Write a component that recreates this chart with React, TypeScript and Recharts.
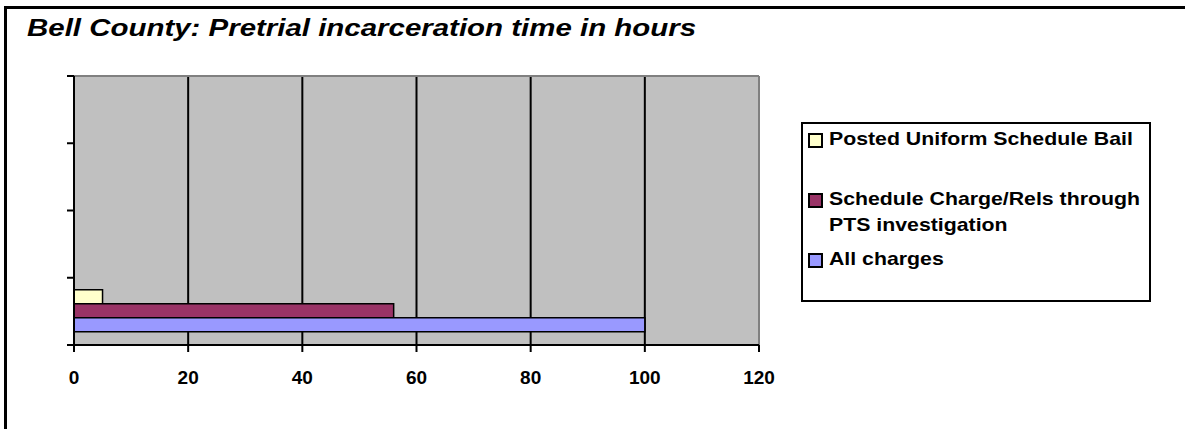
import {
  BarChart,
  Bar,
  XAxis,
  YAxis,
  CartesianGrid,
  Legend,
} from "recharts";

// hours of pretrial incarceration, one row per group (only the last row is filled)
const rows = ["r1", "r2", "r3", "Bell County"];
const postedBail = [null, null, null, 5];
const scheduleCharge = [null, null, null, 56];
const allCharges = [null, null, null, 100];

const hourTicks = [0, 20, 40, 60, 80, 100, 120];

const SERIES = [
  { key: "posted", name: "Posted Uniform Schedule Bail", color: "#FFFFCC" },
  {
    key: "schedule",
    name: "Schedule Charge/Rels through PTS investigation",
    color: "#993366",
  },
  { key: "all", name: "All charges", color: "#9999FF" },
];

const data = rows.map((row, i) => ({
  row,
  posted: postedBail[i],
  schedule: scheduleCharge[i],
  all: allCharges[i],
}));

const FONT = '"Liberation Sans", Arial, sans-serif';

const W = 1185;
const H = 429;
const MARGIN = { top: 76, right: 426, bottom: 54, left: 14 };
const X_AXIS_H = 30;
const BAND = (H - MARGIN.top - MARGIN.bottom - X_AXIS_H) / rows.length;

// category axis: short tick marks on the row boundaries instead of labels
const RowEdgeTick = (props: any) => {
  const { x, y, index } = props;
  const top = y - BAND / 2;
  return (
    <g>
      <line x1={x - 7} x2={x} y1={top} y2={top} stroke="#000" strokeWidth={2} />
      {index === rows.length - 1 && (
        <line
          x1={x - 7}
          x2={x}
          y1={y + BAND / 2}
          y2={y + BAND / 2}
          stroke="#000"
          strokeWidth={2}
        />
      )}
    </g>
  );
};

const renderLegend = () => (
  <div
    style={{
      boxSizing: "border-box",
      width: 350,
      height: 180,
      border: "2px solid #000",
      background: "#fff",
      padding: "2px 0 0 5px",
      fontFamily: FONT,
      fontWeight: "bold",
      fontSize: 19,
      lineHeight: "25.5px",
      color: "#000",
    }}
  >
    {SERIES.map((s) => (
      <div
        key={s.key}
        style={{ display: "flex", alignItems: "flex-start", height: 60 }}
      >
        <div
          style={{
            width: 11,
            height: 11,
            marginTop: 7,
            marginRight: 6,
            flex: "none",
            border: "2px solid #000",
            background: s.color,
          }}
        />
        <div
          style={{
            width: 284,
            transform: "scaleX(1.12)",
            transformOrigin: "left top",
          }}
        >
          {s.name}
        </div>
      </div>
    ))}
  </div>
);

const App = () => {
  return (
    <div
      style={{
        position: "absolute",
        left: 0,
        top: 0,
        width: W,
        height: H,
        overflow: "hidden",
        background: "#fff",
        fontFamily: FONT,
      }}
    >
      {/* frame */}
      <div
        style={{
          position: "absolute",
          left: 4,
          top: 6,
          width: 1300,
          height: 500,
          borderTop: "3px solid #000",
          borderLeft: "3px solid #000",
        }}
      />

      <div
        style={{
          position: "absolute",
          left: 27,
          top: 17,
          fontSize: 23,
          lineHeight: "23px",
          fontWeight: "bold",
          fontStyle: "italic",
          color: "#000",
          whiteSpace: "nowrap",
          transform: "scaleX(1.28)",
          transformOrigin: "left top",
        }}
      >
        Bell County: Pretrial incarceration time in hours
      </div>

      <div style={{ position: "absolute", left: 0, top: 0 }}>
        <BarChart
          width={W}
          height={H}
          data={data}
          layout="vertical"
          margin={MARGIN}
          barCategoryGap={12}
          barGap={0}
        >
          <CartesianGrid
            horizontal={false}
            fill="#C0C0C0"
            fillOpacity={1}
            stroke="#000"
            strokeWidth={2}
          />
          {/* grey top and right edge of the plot area */}
          <CartesianGrid
            horizontalCoordinatesGenerator={({ offset }: any) => [offset.top]}
            verticalCoordinatesGenerator={({ offset }: any) => [
              offset.left + offset.width,
            ]}
            stroke="#808080"
            strokeWidth={2}
          />
          <XAxis
            type="number"
            domain={[0, 120]}
            ticks={hourTicks}
            interval={0}
            height={X_AXIS_H}
            axisLine={{ stroke: "#000", strokeWidth: 2 }}
            tickLine={{ stroke: "#000", strokeWidth: 2 }}
            tickSize={7}
            tickMargin={19}
            tick={{ fill: "#000", fontSize: 19, fontWeight: "bold", fontFamily: FONT }}
          />
          <YAxis
            type="category"
            dataKey="row"
            width={60}
            interval={0}
            tickLine={false}
            tickSize={0}
            tickMargin={0}
            axisLine={{ stroke: "#000", strokeWidth: 2 }}
            tick={<RowEdgeTick />}
          />
          {SERIES.map((s) => (
            <Bar
              key={s.key}
              dataKey={s.key}
              name={s.name}
              fill={s.color}
              stroke="#000"
              strokeWidth={1.5}
              isAnimationActive={false}
            />
          ))}
          <Legend
            layout="horizontal"
            verticalAlign="middle"
            align="center"
            wrapperStyle={{ left: 801, top: 122, width: 350, height: 180 }}
            content={renderLegend}
          />
        </BarChart>
      </div>
    </div>
  );
};

export default App;
